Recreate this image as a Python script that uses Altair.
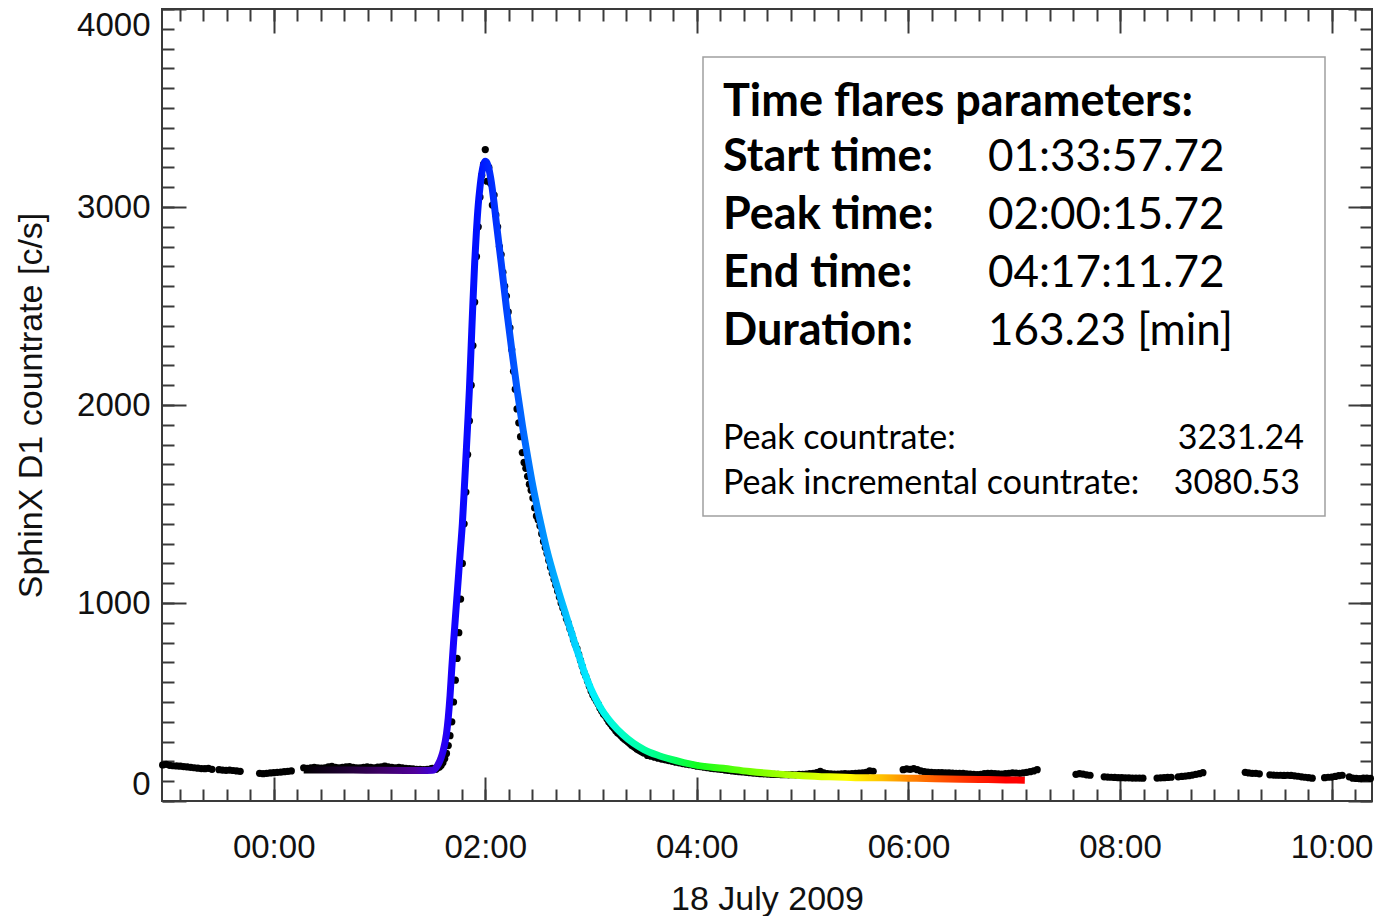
import altair as alt
import pandas as pd

# ---------------- data (time in minutes after 2009-07-18 00:00 UT) ----------------
# observed SphinX D1 count rate: (first minute, cadence in minutes, values)
seg_A = (-63, 2, [182, 185, 180, 178, 177, 176, 174, 172, 170, 168, 166, 164, 163, 165, 160])
seg_B = (-31, 2, [158, 156, 155, 156, 154, 152, 150])
seg_C = (-8, 2, [140, 138, 140, 142, 143, 145, 146, 148, 150, 152])
seg_D = (17, 2, [168, 165, 167, 170, 168, 166, 168, 172, 175, 170, 168, 170, 172, 174, 170,
                 168, 167, 170, 172, 170, 168, 171, 173, 176, 172, 170, 168, 170, 168, 165,
                 163, 162, 160, 160, 159, 160, 162])
seg_E = (90, 1, [165, 162, 160, 168, 172, 180, 195, 215, 240, 280,
                 330, 400, 500, 610, 720, 850, 1020, 1200, 1400, 1560,
                 1750, 1920, 2100, 2300, 2520, 2750, 2900, 3050, 3160, 3215,
                 3290, 3130, 3200, 3120, 3010, 3060, 2960, 2900, 2800, 2760,
                 2670, 2600, 2550, 2470, 2390, 2280, 2170, 2080, 1980, 1910,
                 1840, 1760, 1710, 1680, 1640, 1600, 1570, 1530, 1480, 1440,
                 1420, 1390, 1350, 1310, 1280, 1250, 1215, 1180, 1150, 1120,
                 1090, 1060, 1030, 1000, 975, 950, 920, 900, 870, 845,
                 815, 790, 770, 740, 710, 680, 650, 630, 605, 580,
                 555, 535, 520, 505, 490, 470, 455, 440, 430, 415,
                 400, 390, 378, 368, 355, 345, 338, 330, 320, 312,
                 305, 298, 290, 282, 276, 270, 262, 258, 252, 247,
                 242])
seg_F = (212, 2, [230, 226, 221, 216, 212, 208, 204, 200, 196, 193,
                  189, 186, 183, 180, 176, 174, 171, 168, 165, 163,
                  161, 159, 156, 154, 152, 150, 148, 147, 145, 143,
                  141, 140, 138, 137, 136, 135, 134, 134, 133, 133,
                  132, 133, 132, 134, 135, 136, 138, 140, 144, 150,
                  142, 138, 137, 136, 136, 137, 138, 137, 138, 140,
                  141, 142, 145, 152, 150])
seg_G = (357, 2, [158, 162, 160, 163, 158, 152, 148, 146, 145, 144,
                  143, 143, 142, 142, 141, 140, 140, 139, 137, 136,
                  134, 133, 135, 138, 140, 139, 138, 137, 136, 138,
                  140, 142, 141, 140, 142, 145, 148, 152, 158])
seg_H = (455, 2, [135, 138, 136, 132, 130])
seg_I = (471, 2, [122, 121, 120, 119, 118, 118, 117, 117, 116, 116, 116, 115])
seg_J = (501, 2, [116, 117, 118, 119, 120])
seg_K = (513, 2, [122, 124, 126, 128, 131, 135, 138, 143])
seg_L = (551, 2, [145, 142, 140, 140, 137])
seg_M = (565, 2, [132, 131, 130, 130, 129, 130, 129, 127, 125, 122, 120, 118, 115])
seg_N = (596, 2, [118, 120, 121, 124, 128, 130])
seg_O = (610, 2, [122])
seg_P = (612, 2, [115, 114, 113, 115, 116, 114])

segments = [seg_A, seg_B, seg_C, seg_D, seg_E, seg_F, seg_G, seg_H,
            seg_I, seg_J, seg_K, seg_L, seg_M, seg_N, seg_O, seg_P]

# fitted flare profile
fit_minutes = [17, 30, 45, 60, 75, 84, 90, 91, 93, 95, 96, 98, 99, 100, 101, 102, 103, 104,
               105, 106, 107, 108, 109, 110, 111, 112, 113, 114, 115, 116, 117, 118, 119,
               120, 121, 122, 123, 124, 125, 126, 129, 132, 135, 138, 141, 144, 147, 150,
               153, 156, 159, 162, 165, 168, 171, 174, 177, 180, 183, 186, 192, 198, 204,
               210, 217.5, 225, 232.5, 240, 255, 270, 285, 300, 315, 330, 345, 360, 375,
               390, 405, 420, 426]
fit_values = [157, 157, 156, 155, 154, 154, 155, 158, 180, 220, 250, 340, 420, 530, 670, 800,
              920, 1040, 1160, 1280, 1400, 1560, 1730, 1900, 2080, 2300, 2520, 2720, 2880,
              3010, 3100, 3170, 3215, 3231, 3222, 3195, 3150, 3090, 3020, 2940, 2720, 2490,
              2280, 2080, 1900, 1740, 1590, 1460, 1340, 1230, 1135, 1045, 960, 875, 790, 710,
              630, 565, 510, 462, 390, 335, 292, 260, 232, 211, 194, 180, 165, 149, 137, 128,
              122, 118, 117, 115, 113, 110, 108, 106, 105]

# colour of the fit along time (minute, colour)
grad_minutes = [17, 40, 60, 80, 92, 100, 115, 125, 140, 155, 170, 180, 200, 220, 240,
                270, 300, 325, 345, 360, 380, 400, 415, 426]
grad_colors = ["#000000", "#1e0032", "#3c0064", "#50009a", "#3c00e0", "#1800ff", "#0010ff",
               "#0030ff", "#0060ff", "#0098ff", "#00d0ff", "#00f0ff", "#00ffc0", "#00ff80",
               "#10ff20", "#70ff00", "#c0ff00", "#ffff00", "#ffc000", "#ff8800", "#ff5000",
               "#ff2000", "#ff0000", "#ff0000"]

x_major = [0, 120, 240, 360, 480, 600]
x_minor = [round(-3200 / 60 + 800 / 60 * i, 3) for i in range(51)]
y_major = [0, 1000, 2000, 3000, 4000]
y_minor = list(range(0, 4001, 100))

box_title = "Time flares parameters:"
box_labels = ["Start time:", "Peak time:", "End time:", "Duration:"]
box_values = ["01:33:57.72", "02:00:15.72", "04:17:11.72", "163.23 [min]"]
extra_labels = ["Peak countrate:", "Peak incremental countrate:"]
extra_values = ["3231.24", "3080.53"]

# ---------------- build tables ----------------
rows = []
for start, step, vals in segments:
    for i, v in enumerate(vals):
        rows.append({"t": start + i * step, "v": v})
obs = pd.DataFrame(rows)
fit = pd.DataFrame({"t": fit_minutes, "v": fit_values})

t0, t1 = fit_minutes[0], fit_minutes[-1]
stops = [alt.GradientStop(offset=(m - t0) / (t1 - t0), color=c)
         for m, c in zip(grad_minutes, grad_colors)]
gradient = alt.LinearGradient(gradient="linear", stops=stops, x1=0, x2=1, y1=0, y2=0)

XDOM = [-63.35, 622.9]
YDOM = [0, 4000]
AX = "#3a3a3a"
FONT = "Liberation Sans, Arial, Helvetica, sans-serif"

xs = alt.Scale(domain=XDOM, nice=False, zero=False)
ys = alt.Scale(domain=YDOM, nice=False, zero=False)

def xaxis(orient, values, size, labels=False):
    kw = dict(orient=orient, values=values, tickSize=size, offset=-size, domain=False,
              grid=False, tickColor=AX, tickWidth=2, labels=labels)
    if labels:
        kw.update(labelExpr="(datum.value < 600 ? '0' : '') + datum.value / 60 + ':00'",
                  labelFont=FONT, labelFontSize=33, labelColor="#111111", labelPadding=30,
                  labelFlush=False, labelOverlap=False, titleFont=FONT, titleFontSize=34,
                  titleFontWeight="normal", titleColor="#111111", titlePadding=18)
    return alt.Axis(**kw)

def yaxis(orient, values, size, labels=False):
    kw = dict(orient=orient, values=values, tickSize=size, offset=-size, domain=False,
              grid=False, tickColor=AX, tickWidth=2, labels=labels)
    if labels:
        kw.update(format="d", labelFont=FONT, labelFontSize=33, labelColor="#111111",
                  labelPadding=12, labelFlush=True, labelOverlap=False, titleFont=FONT,
                  titleFontSize=34, titleFontWeight="normal", titleColor="#111111",
                  titlePadding=28)
    return alt.Axis(**kw)

dots = alt.Chart(obs).mark_circle(color="black", size=52, opacity=1).encode(
    x=alt.X("t:Q", scale=xs, axis=xaxis("bottom", x_major, 24, True), title="18 July 2009"),
    y=alt.Y("v:Q", scale=ys, axis=yaxis("left", y_major, 24, True),
            title="SphinX D1 countrate [c/s]"),
)

line = alt.Chart(fit).mark_line(stroke=gradient, strokeWidth=7, interpolate="monotone",
                                strokeCap="butt").encode(
    x=alt.X("t:Q", scale=xs, axis=xaxis("top", x_major, 24), title=None),
    y=alt.Y("v:Q", scale=ys, axis=yaxis("right", y_major, 24), title=None),
)

minor1 = alt.Chart(fit).mark_circle(opacity=0).encode(
    x=alt.X("t:Q", scale=xs, axis=xaxis("bottom", x_minor, 12), title=None),
    y=alt.Y("v:Q", scale=ys, axis=yaxis("left", y_minor, 12), title=None),
)
minor2 = alt.Chart(fit).mark_circle(opacity=0).encode(
    x=alt.X("t:Q", scale=xs, axis=xaxis("top", x_minor, 12), title=None),
    y=alt.Y("v:Q", scale=ys, axis=yaxis("right", y_minor, 12), title=None),
)

# ---- annotation box ----
one = pd.DataFrame({"k": [0]})
box = alt.Chart(one).mark_rect(fill="white", stroke="#a0a0a0", strokeWidth=1.5).encode(
    x=alt.value(541), x2=alt.value(1163), y=alt.value(48), y2=alt.value(507))

def txt(s, x, y, size, bold=False, align="left"):
    return alt.Chart(pd.DataFrame({"s": [s]})).mark_text(
        font="Lato", fontSize=size, fontWeight="bold" if bold else "normal",
        align=align, baseline="alphabetic", color="black").encode(
        text="s:N", x=alt.value(x), y=alt.value(y))

texts = [txt(box_title, 561, 107, 45, True)]
for i, (lab, val) in enumerate(zip(box_labels, box_values)):
    yy = [162, 220, 278, 336][i]
    texts.append(txt(lab, 561, yy, 45, True))
    texts.append(txt(val, 826, yy, 44))
texts.append(txt(extra_labels[0], 561, 440, 34))
texts.append(txt(extra_values[0], 1142, 440, 34, align="right"))
texts.append(txt(extra_labels[1], 561, 485, 34))
texts.append(txt(extra_values[1], 1138, 485, 34, align="right"))

chart = alt.layer(minor1, minor2, box, *texts, dots, line).resolve_axis(
    x="independent", y="independent"
).properties(
    width=1210, height=792,
    autosize=alt.AutoSizeParams(type="none"),
    padding={"left": 162, "top": 9, "right": 5, "bottom": 115},
    background="white",
).configure_view(stroke=AX, strokeWidth=2)

chart.save("out.html", embed_options={"renderer": "svg", "actions": False})
